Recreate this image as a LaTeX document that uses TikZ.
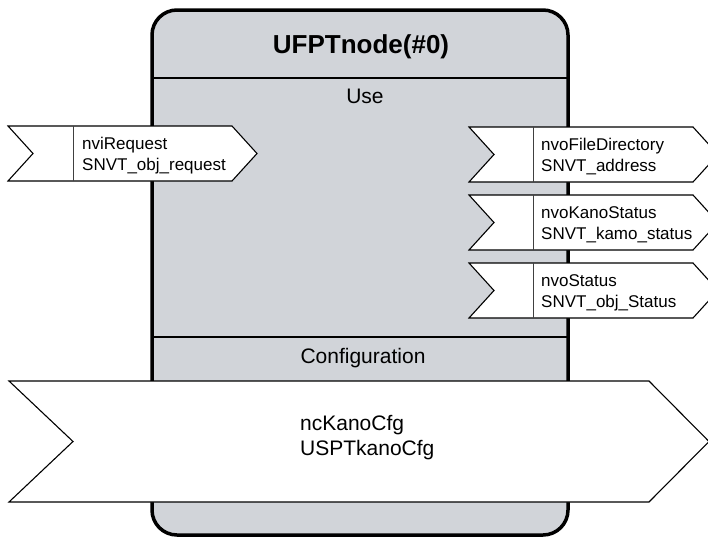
\documentclass[tikz,border=0pt]{standalone}
\usepackage{fontspec}
\setmainfont{Liberation Sans}
\usetikzlibrary{positioning}
\definecolor{fbgray}{RGB}{209,212,217}
\tikzset{
  nvbox/.style={draw=black, fill=white, line width=1.1pt, line join=miter},
  nvdiv/.style={draw=black!75, line width=0.8pt},
  nvtext/.style={anchor=west, align=left, inner sep=0pt, font=\fontsize{17}{21}\selectfont},
  cfgtext/.style={anchor=west, align=left, inner sep=0pt, font=\fontsize{21}{25}\selectfont},
  headtext/.style={anchor=base, inner sep=0pt, font=\fontsize{21}{25}\selectfont},
}

\begin{document}
\begin{tikzpicture}[x=1pt,y=-1pt]
	\useasboundingbox (0,0) rectangle (708,538);
	\coordinate (A) at (152,10);
	\coordinate (B) at (568,10);
	\coordinate (C) at (568,535);
	\coordinate (D) at (152,535);
	
	\draw[line width=3.5pt, fill=fbgray, rounded corners=25pt] (A) -- (B) -- (C) -- (D) -- cycle;
	\draw[line width=1.8pt] (152,78) -- (568,78);
	\draw[line width=1.8pt] (152,337) -- (568,337);
	
	\node[headtext, font=\bfseries\fontsize{26}{30}\selectfont] (title) at (361,53) {UFPTnode(\#0)};
	\node[headtext] (use) at (365,103) {Use};
	\node[headtext] (config) at (363,363) {Configuration};
	
	\draw[nvbox] (8,126) -- (232,126) -- (257,153.5) -- (232,181) -- (8,181) -- (33,153.5) -- cycle;
	\draw[nvdiv] (73,126) -- (73,181);
	\node[nvtext] (nviRequest) at (82,156) {nviRequest\\SNVT\_obj\_request};
	
	\draw[nvbox] (469,127) -- (693,127) -- (718,154.5) -- (693,182) -- (469,182) -- (494,154.5) -- cycle;
	\draw[nvdiv] (533,127) -- (533,182);
	\node[nvtext] (nvoFileDirectory) at (541,157) {nvoFileDirectory\\SNVT\_address};
	
	\draw[nvbox] (469,195) -- (693,195) -- (718,222.5) -- (693,250) -- (469,250) -- (494,222.5) -- cycle;
	\draw[nvdiv] (533,195) -- (533,250);
	\node[nvtext] (nvoKanoStatus) at (541,225) {nvoKanoStatus\\SNVT\_kamo\_status};
	
	\draw[nvbox] (469,263) -- (693,263) -- (718,290.5) -- (693,318) -- (469,318) -- (494,290.5) -- cycle;
	\draw[nvdiv] (533,263) -- (533,318);
	\node[nvtext] (nvoStatus) at (541,293) {nvoStatus\\SNVT\_obj\_Status};
	
	\draw[nvbox] (9,381) -- (649,381) -- (709,441.5) -- (649,502) -- (9,502) -- (73,441.5) -- cycle;
	\node[cfgtext] (ncKanoCfg) at (300,438) {ncKanoCfg\\USPTkanoCfg};
\end{tikzpicture}
\end{document}
